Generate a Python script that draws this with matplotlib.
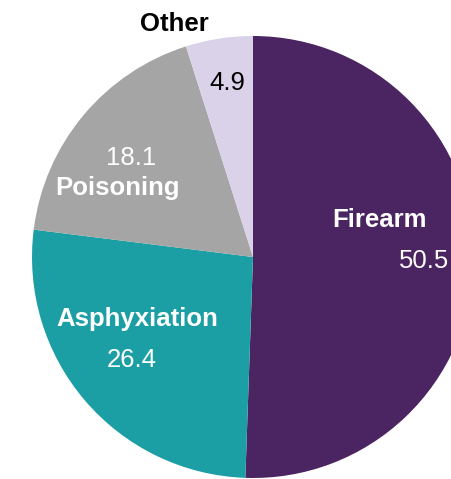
import matplotlib.pyplot as plt

# Data
labels = ['Firearm', 'Asphyxiation', 'Poisoning', 'Other']
values = [50.5, 26.4, 18.1, 4.9]
colors = ['#4B2462', '#1B9FA5', '#A5A5A5', '#D9D2E9']

# Text placement (pixel coords from the top-left), label then value
label_pos = [(380, 220), (137, 319), (118, 188), (174, 24)]
value_pos = [(424, 261), (132, 360), (131, 158), (227, 83)]
text_col = ['white', 'white', 'white', 'black']
label_col = ['white', 'white', 'white', 'black']

W, H = 452, 479
plt.rcParams['font.family'] = ['Liberation Sans', 'DejaVu Sans']

fig = plt.figure(figsize=(W / 100, H / 100), dpi=100)
ax = fig.add_axes([0, 0, 1, 1])

cx, cy, r = 253, H - 257, 221
ax.pie(values, colors=colors, startangle=90, counterclock=False,
       center=(cx, cy), radius=r, frame=True)
ax.set_xlim(0, W)
ax.set_ylim(0, H)
ax.axis('off')

for i in range(len(labels)):
    lx, ly = label_pos[i]
    ax.text(lx, H - ly, labels[i], ha='center', va='center', fontsize=18.5,
            fontweight='bold', color=label_col[i])
    vx, vy = value_pos[i]
    ax.text(vx, H - vy, f'{values[i]:.1f}', ha='center', va='center',
            fontsize=18.5, color=text_col[i])

fig.savefig('out.png', dpi=100)
